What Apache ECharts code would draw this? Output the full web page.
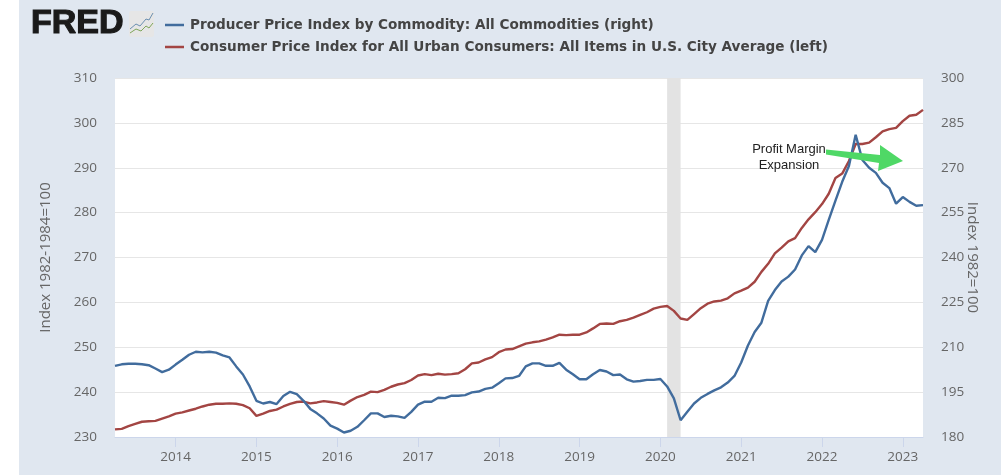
<!DOCTYPE html>
<html><head><meta charset="utf-8">
<style>html,body{margin:0;padding:0;width:1001px;height:475px;overflow:hidden;background:linear-gradient(to right,#fff 19px,#e0e7f0 19px)}#c{width:1001px;height:475px;filter:blur(0.4px)}</style>
<script src="https://cdn.jsdelivr.net/npm/echarts@6/dist/echarts.min.js"></script>
</head><body><div id="c"></div>
<script>
const startYear = 2013, startMonth = 4, monthCount = 121;
const ppiName = 'Producer Price Index by Commodity: All Commodities (right)';
const cpiName = 'Consumer Price Index for All Urban Consumers: All Items in U.S. City Average (left)';
const leftAxisName = 'Index 1982-1984=100';
const rightAxisName = 'Index 1982=100';
const ppi = [
203.8,204.3,204.5,204.5,204.3,204.0,202.9,201.7,202.5,
204.2,205.8,207.5,208.5,208.3,208.5,208.2,207.3,206.6,203.6,200.9,196.9,
192.1,191.2,191.7,191.0,193.7,195.1,194.3,192.1,189.4,187.9,186.2,183.8,
182.8,181.5,182.1,183.4,185.6,187.9,187.9,186.7,187.1,186.9,186.4,188.4,
190.8,191.8,191.8,193.1,193.0,193.8,193.8,194.0,194.9,195.2,196.1,196.5,
198.0,199.6,199.7,200.4,203.6,204.6,204.6,203.8,203.8,204.8,202.5,201.0,
199.3,199.3,201.0,202.4,201.9,200.7,200.9,199.3,198.5,198.7,199.1,199.1,
199.4,196.9,192.9,185.6,188.4,191.2,193.1,194.4,195.6,196.6,198.2,200.4,
204.9,210.6,215.1,218.2,225.5,229.1,232.0,233.6,236.0,240.7,243.8,241.8,
245.9,252.6,259.0,265.3,270.6,281.0,272.6,270.0,268.3,265.0,263.2,258.0,
260.2,258.6,257.3,257.5];
const cpi = [
231.7,231.8,232.4,232.9,233.4,233.5,233.6,234.1,234.6,
235.2,235.5,235.9,236.3,236.8,237.2,237.4,237.4,237.5,237.4,237.1,236.4,
234.7,235.2,235.8,236.1,236.8,237.4,237.8,237.9,237.5,237.7,238.0,237.8,
237.6,237.2,238.1,238.9,239.4,240.1,240.0,240.5,241.2,241.7,242.0,242.7,
243.7,244.0,243.8,244.1,243.9,244.0,244.2,245.1,246.4,246.6,247.3,247.8,
248.9,249.5,249.6,250.2,250.8,251.1,251.3,251.7,252.2,252.8,252.7,252.8,
252.8,253.3,254.2,255.2,255.3,255.2,255.8,256.1,256.6,257.2,257.8,258.6,
259.0,259.2,258.1,256.4,256.1,257.4,258.7,259.7,260.2,260.4,260.9,262.0,
262.6,263.3,264.6,266.8,268.6,270.9,272.2,273.6,274.3,276.6,278.5,280.1,
281.9,284.2,287.7,288.7,291.5,295.3,295.3,295.6,296.8,298.1,298.6,298.9,
300.4,301.6,301.8,302.9];
const recession = ['2020-02','2020-04'];
const annotation = ['Profit Margin','Expansion'];

const months = [];
for (let i = 0; i < monthCount; i++) {
  const t = startYear * 12 + startMonth - 1 + i;
  months.push(Math.floor(t / 12) + '-' + String(t % 12 + 1).padStart(2, '0'));
}
const isJan = i => months[i].endsWith('-01');
const axisFont = {color:'#666', fontFamily:'"Open Sans"', fontSize:13.5};
const nameFont = {color:'#666', fontFamily:'"Open Sans"', fontSize:15};
const chart = echarts.init(document.getElementById('c'), null, {renderer:'canvas'});
chart.setOption({
  animation:false,
  backgroundColor:'transparent',
  grid:{left:115,right:78,top:78,height:359,show:true,backgroundColor:'#fff',borderWidth:0},
  legend:{
    left:160,top:13,orient:'vertical',itemGap:8,itemWidth:19,itemHeight:2.5,icon:'rect',
    data:[ppiName,cpiName],selectedMode:false,
    textStyle:{color:'#444',fontFamily:'"DejaVu Sans"',fontWeight:'bold',fontSize:13.6,padding:[0,0,0,1]}
  },
  xAxis:{
    type:'category',boundaryGap:false,data:months,
    axisLine:{lineStyle:{color:'#ccd6eb',width:1}},
    axisTick:{length:10,interval:(i)=>isJan(i),lineStyle:{color:'#ccd6eb'}},
    axisLabel:{...axisFont,margin:13,interval:(i)=>isJan(i),formatter:v=>v.slice(0,4)},
    splitLine:{show:false}
  },
  yAxis:[{
    type:'value',min:230,max:310,interval:10,position:'left',
    name:leftAxisName,nameLocation:'middle',nameGap:62,nameRotate:90,nameMoveOverlap:false,
    nameTextStyle:{...nameFont},
    axisLine:{show:false},axisTick:{show:false},
    axisLabel:{...axisFont,margin:18},
    splitLine:{lineStyle:{color:'#e6e6e6',width:1}}
  },{
    type:'value',min:180,max:300,interval:15,position:'right',
    name:rightAxisName,nameLocation:'middle',nameGap:42,nameRotate:-90,nameMoveOverlap:false,
    nameTextStyle:{...nameFont},
    axisLine:{show:false},axisTick:{show:false},
    axisLabel:{...axisFont,margin:18},
    splitLine:{show:false}
  }],
  series:[{
    name:cpiName,type:'line',yAxisIndex:0,data:cpi,showSymbol:false,
    lineStyle:{color:'#a34543',width:2.4},itemStyle:{color:'#a34543'},z:3,
    markArea:{silent:true,itemStyle:{color:'#e3e3e3'},data:[[{xAxis:recession[0]},{xAxis:recession[1]}]]}
  },{
    name:ppiName,type:'line',yAxisIndex:1,data:ppi,showSymbol:false,
    lineStyle:{color:'#416c9d',width:2.4},itemStyle:{color:'#416c9d'},z:4
  }],
  graphic:[
    {type:'text',x:31,y:24,z:10,style:{text:'FRED',fill:'#1a1a1a',font:'900 34px "Liberation Sans"',verticalAlign:'middle',stroke:'#1a1a1a',lineWidth:1.2}},
    {type:'rect',shape:{x:129,y:11,width:25,height:26,r:2},z:10,style:{fill:'#e6e6e6'}},
    {type:'polyline',shape:{points:[[130,29],[136,24],[140,26],[146,19],[149,20],[153,13]]},z:11,style:{stroke:'#6b8fb0',fill:null,lineWidth:1}},
    {type:'polyline',shape:{points:[[130,33],[136,29],[141,31],[146,26],[149,28],[153,23]]},z:11,style:{stroke:'#7fa65a',fill:null,lineWidth:1}},
    {type:'polygon',z:12,shape:{points:[[826,149.5],[880,155],[880,145],[903,161],[878,171],[879,163],[826,154.5]]},style:{fill:'#4fd866'}},
    {type:'text',z:12,x:789,y:149,style:{text:annotation[0],fill:'#222',font:'13px "Liberation Sans"',align:'center',verticalAlign:'middle'}},
    {type:'text',z:12,x:789,y:165,style:{text:annotation[1],fill:'#222',font:'13px "Liberation Sans"',align:'center',verticalAlign:'middle'}}
  ]
});
</script></body></html>
